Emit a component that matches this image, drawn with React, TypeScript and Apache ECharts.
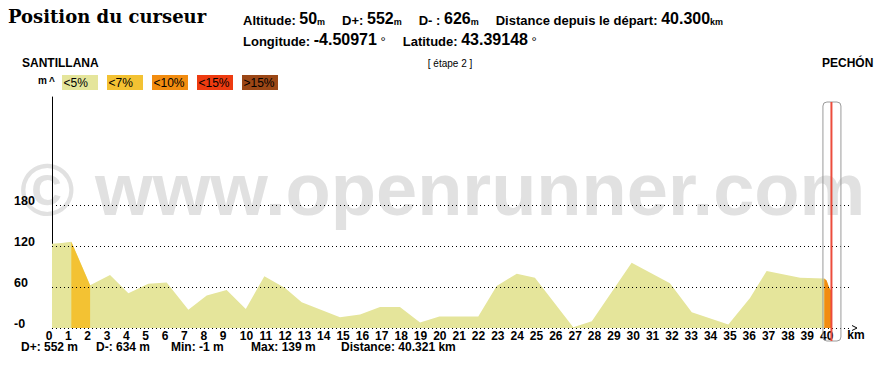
import React, { useEffect, useRef } from "react";
import * as echarts from "echarts";

// ---- data ----
const profileKm = [0, 0.5, 1.0, 1.97, 3.0, 3.95, 4.98, 5.93, 7.05, 8.0, 9.03, 10.02, 10.98, 12.05, 12.91, 13.34, 14.89, 15.93, 16.96, 17.99, 19.03, 20.03, 22.04, 22.99, 24.03, 24.97, 26.95, 27.91, 29.97, 31.95, 33.08, 34.97, 36.09, 36.95, 38.68, 39.93, 40.05, 40.19, 40.31];
const profileAlt = [124, 125, 127, 63, 78, 51, 65, 67, 27, 48, 56, 28, 76, 59, 38, 33, 16, 20, 31, 31, 8, 17, 17, 62, 80, 74, 1, 10, 96, 66, 23, 5, 44, 84, 74, 73, 70, 59, 54];
// steep sections: [first index, last index, slope class]
const segFrom = [2, 35];
const segTo = [3, 38];
const segClass = [1, 2];

const legendLabels = ["<5%", "<7%", "<10%", "<15%", ">15%"];
const legendColors = ["#e5e59b", "#f3c233", "#f28c10", "#ee3b10", "#9b4716"];

const yTicks = [0, 60, 120, 180];
const xLastTick = 40;
const cursorKm = 40.3;

const title = "Position du curseur";
const startName = "SANTILLANA";
const endName = "PECHÓN";
const stageName = "[ étape 2 ]";
const infoLabels1 = ["Altitude: ", "D+: ", "D- : ", "Distance depuis le départ: "];
const infoValues1 = ["50", "552", "626", "40.300"];
const infoUnits1 = ["m", "m", "m", "km"];
const infoLabels2 = ["Longitude: ", "Latitude: "];
const infoValues2 = ["-4.50971", "43.39148"];
const statTexts = ["D+: 552 m", "D-: 634 m", "Min: -1 m", "Max: 139 m", "Distance: 40.321 km"];
const statX = [21, 96, 171, 251, 341];

const SANS = "'Liberation Sans', Arial, Helvetica, sans-serif";

export default function App() {
  const ref = useRef<HTMLDivElement>(null);
  useEffect(() => {
    const el = ref.current!;
    const chart = echarts.init(el, null, { renderer: "svg" });
    const pts = profileKm.map((k, i) => [k, profileAlt[i]]);
    const series: any[] = [
      {
        type: "line",
        data: [],
        z: 1,
        silent: true,
        markLine: {
          silent: true,
          symbol: "none",
          label: { show: false },
          lineStyle: { type: [1, 3], color: "#000", width: 1 },
          data: yTicks.map((v) => ({ yAxis: v })),
        },
      },
      {
        type: "line",
        data: pts,
        symbol: "none",
        silent: true,
        lineStyle: { width: 0, opacity: 0 },
        areaStyle: { color: legendColors[0], opacity: 1 },
        z: 3,
      },
      ...segFrom.map((f, i) => ({
        type: "line",
        data: pts.slice(f, segTo[i] + 1),
        symbol: "none",
        silent: true,
        lineStyle: { width: 0, opacity: 0 },
        areaStyle: { color: legendColors[segClass[i]], opacity: 1 },
        z: 4,
      })),
    ];
    const tickFont = { fontWeight: "bold", fontSize: 12, fontFamily: SANS, color: "#000" };
    chart.setOption({
      animation: false,
      grid: { left: 52, right: 36, top: 97, bottom: 38 },
      xAxis: {
        type: "value",
        min: 0,
        max: 41.26,
        interval: 1,
        axisLine: { show: false },
        axisTick: { show: false },
        splitLine: { show: false },
        axisLabel: {
          margin: 2,
          color: "#000",
          fontWeight: "bold",
          fontSize: 12,
          fontFamily: SANS,
          showMaxLabel: false,
          formatter: (v: number) =>
            Number.isInteger(v) && v <= xLastTick ? (v < 10 ? `{a|${v}}` : `{b|${v}}`) : "",
          rich: {
            a: { ...tickFont, padding: [0, 6, 0, 0] },
            b: { ...tickFont, padding: [0, 0, 0, 2] },
          },
        },
      },
      yAxis: {
        type: "value",
        min: 0,
        max: 340,
        interval: 60,
        axisLine: { show: true, lineStyle: { color: "#000", width: 1 } },
        axisTick: { show: false },
        splitLine: { show: false },
        axisLabel: {
          align: "left",
          margin: 38,
          color: "#000",
          fontWeight: "bold",
          fontSize: 12.5,
          fontFamily: SANS,
          verticalAlign: "bottom",
          lineHeight: 9,
          formatter: (v: number) => (yTicks.includes(v) ? (v === 0 ? "-0" : String(v)) : ""),
        },
      },
      series,
    });

    const cx = chart.convertToPixel({ xAxisIndex: 0 }, cursorKm) as number;
    const gridRight = chart.convertToPixel({ xAxisIndex: 0 }, 41.26) as number;
    const y0 = chart.convertToPixel({ yAxisIndex: 0 }, 0) as number;

    const rich1: any = {
      l: { fontSize: 13, fontWeight: "bold", fontFamily: SANS, lineHeight: 13, verticalAlign: "bottom", fill: "#000" },
      v: { fontSize: 16, fontWeight: "bold", fontFamily: SANS, lineHeight: 16, verticalAlign: "bottom", fill: "#000" },
      u: { fontSize: 9, fontWeight: "bold", fontFamily: SANS, lineHeight: 9, verticalAlign: "bottom", fill: "#000" },
      d: { fontSize: 13, fontFamily: SANS, lineHeight: 13, verticalAlign: "bottom", fill: "#000" },
      g: { width: 17, fontSize: 9, lineHeight: 9, verticalAlign: "bottom" },
    };
    const line1 = infoLabels1
      .map((l, i) => `{l|${l}}{v|${infoValues1[i]}}{u|${infoUnits1[i]}}`)
      .join("{g| }");
    const line2 = infoLabels2
      .map((l, i) => `{l|${l}}{v|${infoValues2[i]}}{d|\u00a0°}`)
      .join("{g| }");

    const graphic: any[] = [
      {
        type: "text",
        x: 20,
        y: 189,
        z: 0,
        silent: true,
        style: { text: "© www.openrunner.com", font: `bold 74px ${SANS}`, fill: "#e1e1e1", align: "left", verticalAlign: "middle" },
      },
      {
        type: "text",
        x: 8,
        y: 16,
        z: 50,
        style: { text: title, font: "bold 18px 'DejaVu Serif', serif", fill: "#000", align: "left", verticalAlign: "middle" },
      },
      { type: "text", x: 243, y: 26.5, z: 50, style: { text: line1, rich: rich1, align: "left", verticalAlign: "bottom" } },
      { type: "text", x: 243, y: 47.5, z: 50, style: { text: line2, rich: rich1, align: "left", verticalAlign: "bottom" } },
      { type: "text", x: 22, y: 63, z: 50, style: { text: startName, font: `bold 12px ${SANS}`, fill: "#000", align: "left", verticalAlign: "middle" } },
      { type: "text", x: 822, y: 63, z: 50, style: { text: endName, font: `bold 12px ${SANS}`, fill: "#000", align: "left", verticalAlign: "middle" } },
      { type: "text", x: 450, y: 63, z: 50, style: { text: stageName, font: `10px ${SANS}`, fill: "#000", align: "center", verticalAlign: "middle" } },
      { type: "text", x: 38, y: 80, z: 50, style: { text: "m", font: `bold 10px ${SANS}`, fill: "#000", align: "left", verticalAlign: "middle" } },
      { type: "text", x: 49, y: 81, z: 50, style: { text: "^", font: `bold 10px ${SANS}`, fill: "#000", align: "left", verticalAlign: "middle" } },
      ...legendLabels.flatMap((lab, i) => [
        { type: "rect", z: 50, shape: { x: 62 + 45 * i, y: 75, width: 36, height: 15 }, style: { fill: legendColors[i] } },
        { type: "text", x: 63.5 + 45 * i, y: 83, z: 51, style: { text: lab, font: `12px ${SANS}`, fill: "#000", align: "left", verticalAlign: "middle" } },
      ]),
      ...statTexts.map((t, i) => ({
        type: "text",
        x: statX[i],
        y: 347,
        z: 50,
        style: { text: t, font: `bold 12px ${SANS}`, fill: "#000", align: "left", verticalAlign: "middle" },
      })),
      { type: "text", x: gridRight + 6, y: y0 + 7, z: 50, style: { text: "km", font: `bold 12px ${SANS}`, fill: "#000", align: "center", verticalAlign: "middle" } },
      {
        type: "polyline",
        z: 50,
        shape: { points: [[gridRight + 2, y0 - 2.5], [gridRight + 7, y0], [gridRight + 2, y0 + 2.5]] },
        style: { stroke: "#000", lineWidth: 1, fill: null },
      },
      {
        type: "rect",
        z: 100,
        shape: { x: cx - 8.5, y: 102, width: 18, height: 239, r: 4 },
        style: { fill: null, stroke: "#9a9a9a", lineWidth: 1 },
      },
      {
        type: "line",
        z: 101,
        shape: { x1: cx, y1: 102, x2: cx, y2: 341 },
        style: { stroke: "#ec4c3c", lineWidth: 2 },
      },
    ];
    chart.setOption({ graphic });
    return () => chart.dispose();
  }, []);
  return <div ref={ref} style={{ position: "fixed", left: 0, top: 0, width: 886, height: 366, background: "#fff" }} />;
}
